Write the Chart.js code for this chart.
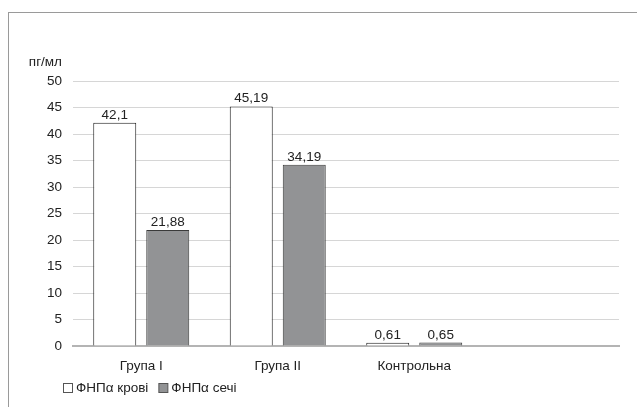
<!DOCTYPE html>
<html>
<head>
<meta charset="utf-8">
<script src="https://cdn.jsdelivr.net/npm/chart.js@4/dist/chart.umd.min.js"></script>
<style>
  html, body { margin: 0; padding: 0; background: #fff; }
  #wrap { position: relative; width: 637px; height: 407px; overflow: hidden; }
  #frame { position: absolute; left: 8px; top: 12px; width: 700px; height: 500px;
           border-left: 1px solid #9a9a9a; border-top: 1px solid #9a9a9a; }
  canvas { position: absolute; left: 0; top: 0; }
</style>
</head>
<body>
<div id="wrap">
  <div id="frame"></div>
  <canvas id="c" width="637" height="407"></canvas>
</div>
<script>
// Groups on the x axis (the last slot is left empty)
const categories = ['Група I', 'Група II', 'Контрольна', ''];
// ФНПα levels, pg/ml
const bloodValues = [42.1, 45.19, 0.61, null];
const urineValues = [21.88, 34.19, 0.65, null];
const seriesNames = ['ФНПα крові', 'ФНПα сечі'];
const yTicks = [0, 5, 10, 15, 20, 25, 30, 35, 40, 45, 50];
const yUnit = 'пг/мл';

const FONT = '"Liberation Sans", Arial, Helvetica, sans-serif';
const FSIZE = 13.5;
const TEXT = '#222';

const fmt = v => String(v).replace('.', ',');

const extrasPlugin = {
  id: 'extras',
  afterDatasetsDraw(chart) {
    const ctx = chart.ctx;
    ctx.save();
    ctx.font = FSIZE + 'px ' + FONT;
    ctx.fillStyle = TEXT;
    // value labels above the bars
    ctx.textAlign = 'center';
    ctx.textBaseline = 'alphabetic';
    chart.data.datasets.forEach((ds, i) => {
      chart.getDatasetMeta(i).data.forEach((bar, j) => {
        const v = ds.data[j];
        if (v == null) return;
        ctx.fillText(fmt(v), bar.x, bar.y - 4);
      });
    });
    // unit label above the value axis
    const y = chart.scales.y;
    ctx.textAlign = 'right';
    ctx.textBaseline = 'middle';
    ctx.fillText(yUnit, y.right - 11, 62);
    // legend
    let x = 63;
    const ly = 388;
    ctx.textAlign = 'left';
    chart.data.datasets.forEach((ds) => {
      ctx.fillStyle = ds.backgroundColor;
      ctx.fillRect(x + 0.5, ly - 4.5, 9, 9);
      ctx.strokeStyle = ds.legendBorder;
      ctx.lineWidth = 1;
      ctx.strokeRect(x + 0.5, ly - 4.5, 9, 9);
      ctx.fillStyle = TEXT;
      ctx.fillText(ds.label, x + 13, ly);
      x += 13 + ctx.measureText(ds.label).width + 10;
    });
    ctx.restore();
  }
};

new Chart(document.getElementById('c'), {
  type: 'bar',
  data: {
    labels: categories,
    datasets: [
      { label: seriesNames[0], data: bloodValues, backgroundColor: '#ffffff',
        borderColor: '#1e1e1e', borderWidth: 1, legendBorder: '#555' },
      { label: seriesNames[1], data: urineValues, backgroundColor: '#929395',
        borderColor: '#3a3a3a', borderWidth: 1, legendBorder: '#555' }
    ]
  },
  options: {
    responsive: false,
    animation: false,
    devicePixelRatio: 1,
    layout: { padding: { left: 0, top: 81, right: 18, bottom: 0 } },
    datasets: { bar: { categoryPercentage: 0.7766, barPercentage: 0.811 } },
    plugins: { legend: { display: false }, tooltip: { enabled: false } },
    scales: {
      x: {
        grid: { display: false },
        border: { color: '#b4b4b4', width: 2 },
        ticks: { color: TEXT, font: { family: FONT, size: FSIZE }, padding: 4, maxRotation: 0 },
        afterFit(s) { s.height = 61; }
      },
      y: {
        min: 0, max: 50,
        afterBuildTicks(s) { s.ticks = yTicks.map(v => ({ value: v })); },
        grid: { color: '#d6d6d6', lineWidth: 1, drawTicks: false },
        border: { display: false },
        ticks: { color: TEXT, font: { family: FONT, size: FSIZE }, padding: 11 },
        afterFit(s) { s.width = 73; }
      }
    }
  },
  plugins: [extrasPlugin]
});
</script>
</body>
</html>
